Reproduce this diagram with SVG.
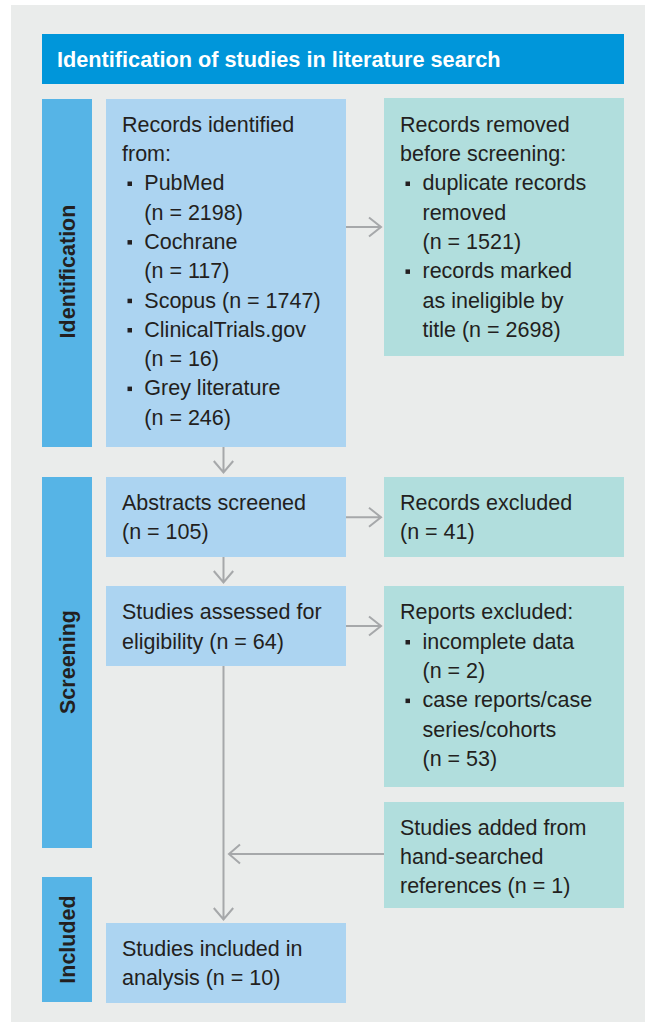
<svg xmlns="http://www.w3.org/2000/svg" width="655" height="1027" viewBox="0 0 655 1027">
<defs>
<style>
.bg{fill:#eaeceb}
.hdr{fill:#0096da}
.side{fill:#56b4e6}
.blue{fill:#acd4f1}
.teal{fill:#b1dedd}
.t{font-family:"Liberation Sans",Arial,sans-serif;font-size:21.5px;fill:#231f20}
.ht{font-family:"Liberation Sans",Arial,sans-serif;font-size:21.7px;font-weight:bold;fill:#ffffff}
.st{font-family:"Liberation Sans",Arial,sans-serif;font-size:21.5px;font-weight:bold;fill:#231f20;text-anchor:middle}
.b{fill:#231f20}
.c{fill:none;stroke:#a6a8aa;stroke-width:2}
</style>
</defs>
<rect class="bg" x="11" y="5" width="634" height="1017"/>
<g id="header">
<rect class="hdr" x="42" y="34" width="582" height="50"/>
<text class="ht" x="57" y="66.7">Identification of studies in literature search</text>
</g>
<g id="stage-identification">
<rect class="side" x="42" y="99" width="50" height="348"/>
<text class="st" transform="translate(75,271.5) rotate(-90)">Identification</text>
</g>
<g id="stage-screening">
<rect class="side" x="42" y="477" width="50" height="371"/>
<text class="st" transform="translate(75,662) rotate(-90)">Screening</text>
</g>
<g id="stage-included">
<rect class="side" x="42" y="877" width="50" height="125"/>
<text class="st" transform="translate(75,939.5) rotate(-90)">Included</text>
</g>
<g id="records-identified">
<rect class="blue" x="106" y="99" width="240" height="348"/>
<text class="t"><tspan x="122" y="131.7">Records identified</tspan><tspan x="122" y="161">from:</tspan><tspan x="144.3" y="190.3">PubMed</tspan><tspan x="144.3" y="219.6">(n = 2198)</tspan><tspan x="144.3" y="248.9">Cochrane</tspan><tspan x="144.3" y="278.2">(n = 117)</tspan><tspan x="144.3" y="307.5">Scopus (n = 1747)</tspan><tspan x="144.3" y="336.8">ClinicalTrials.gov</tspan><tspan x="144.3" y="366.1">(n = 16)</tspan><tspan x="144.3" y="395.4">Grey literature</tspan><tspan x="144.3" y="424.7">(n = 246)</tspan></text>
<rect class="b" x="127.5" y="181.5" width="4.5" height="4.5"/>
<rect class="b" x="127.5" y="240.1" width="4.5" height="4.5"/>
<rect class="b" x="127.5" y="298.7" width="4.5" height="4.5"/>
<rect class="b" x="127.5" y="328" width="4.5" height="4.5"/>
<rect class="b" x="127.5" y="386.6" width="4.5" height="4.5"/>
</g>
<g id="records-removed">
<rect class="teal" x="384" y="98" width="240" height="258"/>
<text class="t"><tspan x="400" y="131.7">Records removed</tspan><tspan x="400" y="161">before screening:</tspan><tspan x="422.5" y="190.3">duplicate records</tspan><tspan x="422.5" y="219.6">removed</tspan><tspan x="422.5" y="248.9">(n = 1521)</tspan><tspan x="422.5" y="278.2">records marked</tspan><tspan x="422.5" y="307.5">as ineligible by</tspan><tspan x="422.5" y="336.8">title (n = 2698)</tspan></text>
<rect class="b" x="405.5" y="181.5" width="4.5" height="4.5"/>
<rect class="b" x="405.5" y="269.4" width="4.5" height="4.5"/>
</g>
<g id="abstracts-screened">
<rect class="blue" x="106" y="477" width="240" height="80"/>
<text class="t"><tspan x="122" y="510">Abstracts screened</tspan><tspan x="122" y="539.3">(n = 105)</tspan></text>
</g>
<g id="records-excluded">
<rect class="teal" x="384" y="477" width="240" height="80"/>
<text class="t"><tspan x="400" y="510">Records excluded</tspan><tspan x="400" y="539.3">(n = 41)</tspan></text>
</g>
<g id="studies-assessed">
<rect class="blue" x="106" y="586" width="240" height="80"/>
<text class="t"><tspan x="122" y="619.3">Studies assessed for</tspan><tspan x="122" y="648.6">eligibility (n = 64)</tspan></text>
</g>
<g id="reports-excluded">
<rect class="teal" x="384" y="586" width="240" height="201"/>
<text class="t"><tspan x="400" y="619.3">Reports excluded:</tspan><tspan x="422.5" y="648.8">incomplete data</tspan><tspan x="422.5" y="678.1">(n = 2)</tspan><tspan x="422.5" y="707.4">case reports/case</tspan><tspan x="422.5" y="736.7">series/cohorts</tspan><tspan x="422.5" y="766">(n = 53)</tspan></text>
<rect class="b" x="405.5" y="640" width="4.5" height="4.5"/>
<rect class="b" x="405.5" y="698.6" width="4.5" height="4.5"/>
</g>
<g id="studies-added">
<rect class="teal" x="384" y="802" width="240" height="106"/>
<text class="t"><tspan x="400" y="835">Studies added from</tspan><tspan x="400" y="864">hand-searched</tspan><tspan x="400" y="893">references (n = 1)</tspan></text>
</g>
<g id="studies-included">
<rect class="blue" x="106" y="923" width="240" height="80"/>
<text class="t"><tspan x="122" y="956">Studies included in</tspan><tspan x="122" y="985">analysis (n = 10)</tspan></text>
</g>
<g id="connectors">
<path class="c" d="M346 227H381M369 217.5L381 227L369 236.5"/>
<path class="c" d="M346 517.3H381M369 507.8L381 517.3L369 526.8"/>
<path class="c" d="M346 626H381M369 616.5L381 626L369 635.5"/>
<path class="c" d="M223.5 447V472.5M213.8 461L223.5 472.5L233.2 461"/>
<path class="c" d="M223.5 557V582.5M213.8 571L223.5 582.5L233.2 571"/>
<path class="c" d="M223.5 666V919.5M213.8 908L223.5 919.5L233.2 908"/>
<path class="c" d="M384 854H229M240 844.5L229 854L240 863.5"/>
</g>
</svg>
